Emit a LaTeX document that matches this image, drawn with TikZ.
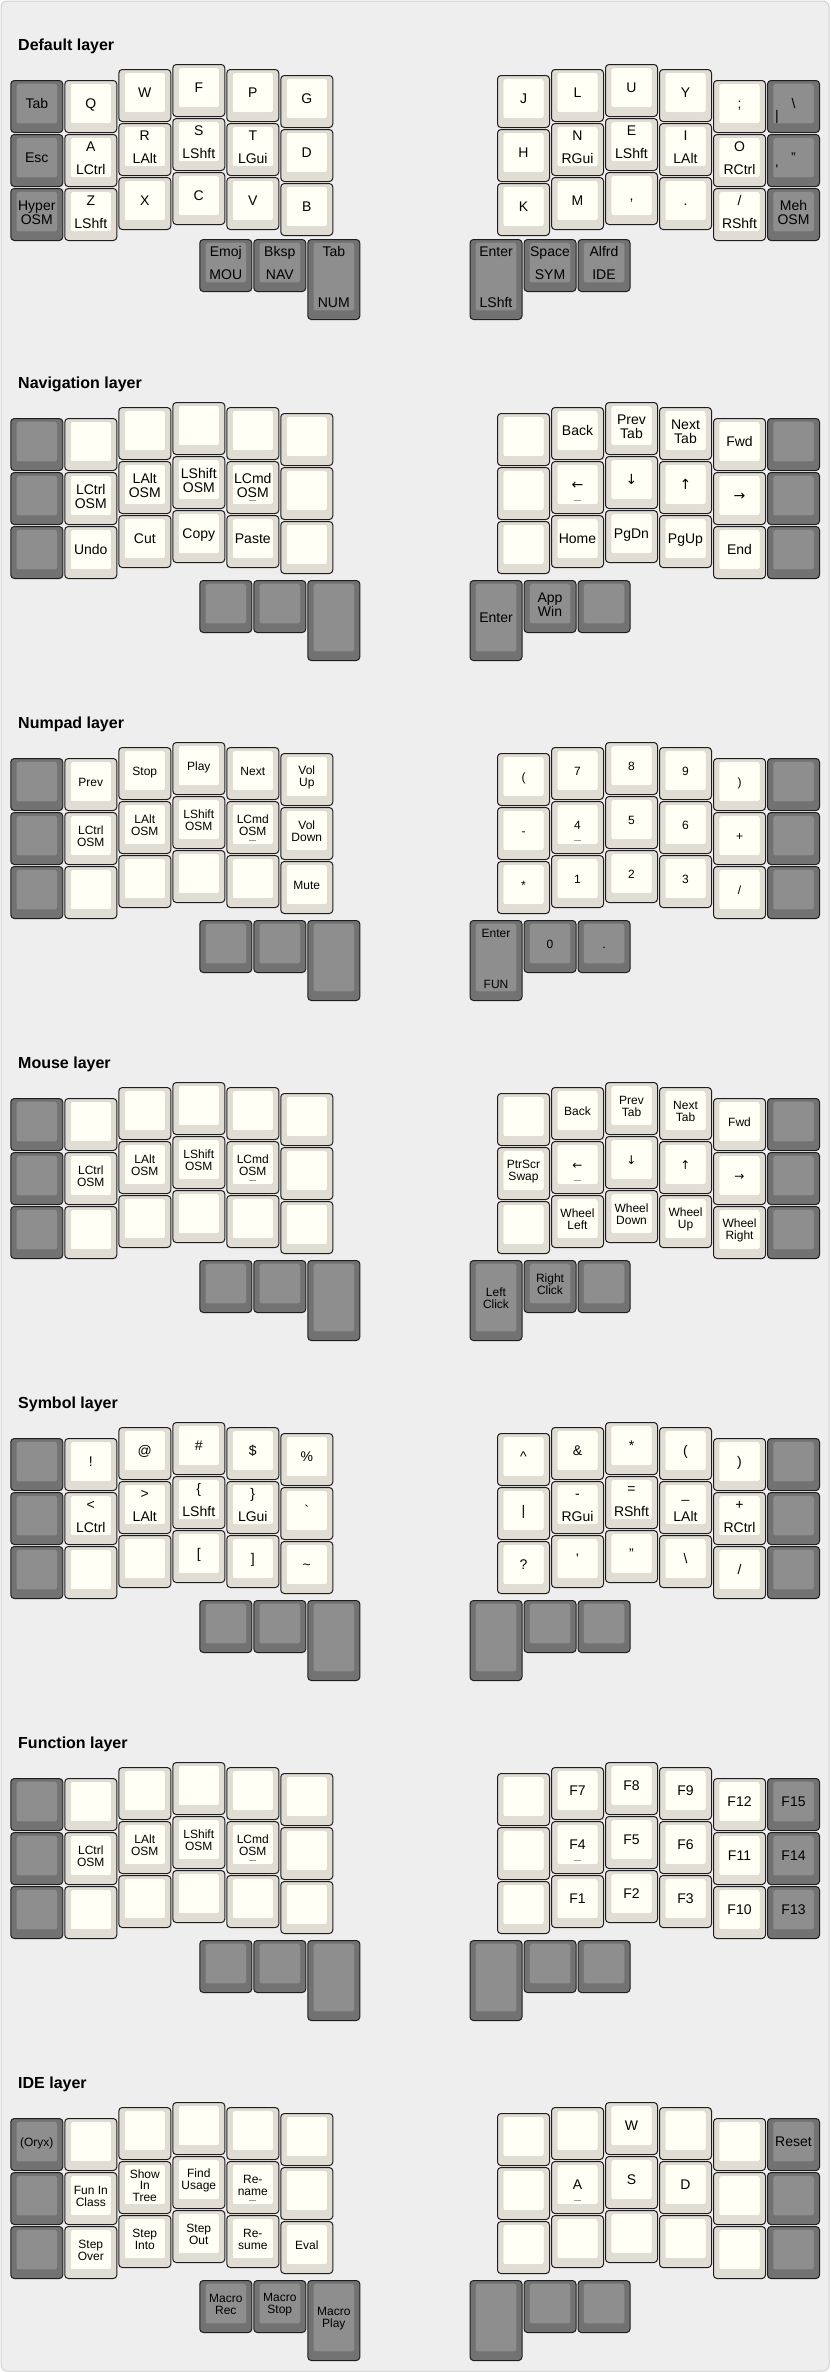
\documentclass[tikz,border=0pt]{standalone}
\usepackage{fontspec}
\setmainfont{Liberation Sans}
\newfontfamily\arrowfont{DejaVu Sans}

\definecolor{panelbg}{HTML}{EEEEEE}
\definecolor{panelline}{HTML}{D2D2D2}
\definecolor{keyline}{HTML}{1E1E1E}
\definecolor{alphaedge}{HTML}{E2DDD4}
\definecolor{alphatop}{HTML}{FFFFF5}
\definecolor{modedge}{HTML}{727272}
\definecolor{modtop}{HTML}{8E8E8E}

% top face of a keycap
\newcommand{\capface}[1]{\filldraw[fill=#1, draw=#1!84!black, line width=0.5pt, rounded corners=2.5pt]
  ([xshift=5.5pt,yshift=-3.2pt]path picture bounding box.north west) rectangle
  ([xshift=-5.5pt,yshift=8.8pt]path picture bounding box.south east);}

% one split keyboard: prefix, top of middle column, thumb drop
\newcommand{\keyboard}[3]{%
  \foreach \kr in {0,1,2}
    \node[modkey] (#1-l\kr0) at (36.8,{#2+16+54*\kr+26.5}) {};
  \foreach \kc/\dy in {1/16,2/5,3/0,4/5,5/11}
    \foreach \kr in {0,1,2}
      \node[alphakey] (#1-l\kr\kc) at ({36.8+54*\kc},{#2+\dy+54*\kr+26.5}) {};
  \foreach \kc/\dy in {0/11,1/5,2/0,3/5,4/16}
    \foreach \kr in {0,1,2}
      \node[alphakey] (#1-r\kr\kc) at ({523.5+54*\kc},{#2+\dy+54*\kr+26.5}) {};
  \foreach \kr in {0,1,2}
    \node[modkey] (#1-r\kr5) at (793.5,{#2+16+54*\kr+26.5}) {};
  \node[modkey] (#1-lt0) at (225.8,{#2+#3+26.5}) {};
  \node[modkey] (#1-lt1) at (279.8,{#2+#3+26.5}) {};
  \node[modkey, tall] (#1-lt2) at (333.8,{#2+#3+40.5}) {};
  \node[modkey, tall] (#1-rt0) at (496,{#2+#3+40.5}) {};
  \node[modkey] (#1-rt1) at (550,{#2+#3+26.5}) {};
  \node[modkey] (#1-rt2) at (604,{#2+#3+26.5}) {};
}

% legends
\newcommand{\kt}[3][]{\node[one,#1] (#2-t) at ([yshift=2pt]#2.center) {#3};}
\newcommand{\km}[3][]{\node[lgd,#1] (#2-t) at ([yshift=2pt]#2.center) {#3};}
\newcommand{\kh}[3]{\node[one] (#1-t) at ([yshift=-13.5pt]#1.north) {#2};
  \node[one] (#1-h) at ([yshift=17pt]#1.south) {#3};}
\newcommand{\ks}[3]{\node[one] (#1-t) at ([yshift=2pt]#1.center) {#2};
  \node[one] (#1-s) at ([xshift=-16.5pt,yshift=17pt]#1.south) {#3};}
\newcommand{\home}[1]{\draw[homebar] ([xshift=-3.5pt,yshift=-39.5pt]#1.north) -- ([xshift=3.5pt,yshift=-39.5pt]#1.north);}

\begin{document}
\begin{tikzpicture}[x=1pt, y=-1pt,
  capkey/.style={draw=keyline, line width=1pt, rounded corners=3.5pt, minimum width=52pt, minimum height=52pt, inner sep=0pt},
  alphakey/.style={capkey, fill=alphaedge, path picture={\capface{alphatop}}},
  modkey/.style={capkey, fill=modedge, path picture={\capface{modtop}}},
  tall/.style={minimum height=80pt},
  lgd/.style={font=\fontsize{12}{11.7}\selectfont, align=center, inner sep=0pt},
  one/.style={lgd, text height=8.9pt, text depth=0pt},
  big/.style={font=\fontsize{14}{13.5}\selectfont},
  layertitle/.style={anchor=base west, inner sep=0pt, font=\bfseries\fontsize{16}{19}\selectfont},
  homebar/.style={draw=black!40, line width=0.8pt},
  panel/.style={fill=panelbg, draw=panelline, line width=1pt, rounded corners=6pt}
]
\useasboundingbox (0,0) rectangle (830,2372);
\draw[panel] (1,1) rectangle (829,2371);

% default layer
\begin{scope}[lgd/.append style={big}]
\node[layertitle] (d-title) at (18,50) {Default layer};
\keyboard{d}{64}{175}
\kt{d-l00}{Tab} \kt{d-l01}{Q} \kt{d-l02}{W} \kt{d-l03}{F} \kt{d-l04}{P} \kt{d-l05}{G}
\kt{d-l10}{Esc} \kh{d-l11}{A}{LCtrl} \kh{d-l12}{R}{LAlt} \kh{d-l13}{S}{LShft} \kh{d-l14}{T}{LGui} \kt{d-l15}{D}
\km{d-l20}{Hyper\\OSM} \kh{d-l21}{Z}{LShft} \kt{d-l22}{X} \kt{d-l23}{C} \kt{d-l24}{V} \kt{d-l25}{B}
\kh{d-lt0}{Emoj}{MOU} \kh{d-lt1}{Bksp}{NAV} \kh{d-lt2}{Tab}{NUM}
\kt{d-r00}{J} \kt{d-r01}{L} \kt{d-r02}{U} \kt{d-r03}{Y} \kt{d-r04}{;} \ks{d-r05}{\textbackslash}{|}
\kt{d-r10}{H} \kh{d-r11}{N}{RGui} \kh{d-r12}{E}{LShft} \kh{d-r13}{I}{LAlt} \kh{d-r14}{O}{RCtrl} \ks{d-r15}{"}{\textquotesingle}
\kt{d-r20}{K} \kt{d-r21}{M} \kt{d-r22}{,} \kt{d-r23}{.} \kh{d-r24}{/}{RShft} \km{d-r25}{Meh\\OSM}
\kh{d-rt0}{Enter}{LShft} \kh{d-rt1}{Space}{SYM} \kh{d-rt2}{Alfrd}{IDE}
\end{scope}

% navigation layer
\begin{scope}[lgd/.append style={big}]
\node[layertitle] (n-title) at (18,388) {Navigation layer};
\keyboard{n}{402}{178}
\km{n-l11}{LCtrl\\OSM} \km{n-l12}{LAlt\\OSM} \km{n-l13}{LShift\\OSM} \km{n-l14}{LCmd\\OSM} \home{n-l14}
\kt{n-l21}{Undo} \kt{n-l22}{Cut} \kt{n-l23}{Copy} \kt{n-l24}{Paste}
\kt{n-r01}{Back} \km{n-r02}{Prev\\Tab} \km{n-r03}{Next\\Tab} \kt{n-r04}{Fwd}
\kt{n-r11}{\arrowfont ←} \home{n-r11} \kt{n-r12}{\arrowfont ↓} \kt{n-r13}{\arrowfont ↑} \kt{n-r14}{\arrowfont →}
\kt{n-r21}{Home} \kt{n-r22}{PgDn} \kt{n-r23}{PgUp} \kt{n-r24}{End}
\kt{n-rt0}{Enter} \km{n-rt1}{App\\Win}
\end{scope}

% numpad layer
\node[layertitle] (u-title) at (18,728) {Numpad layer};
\keyboard{u}{742}{178}
\kt{u-l01}{Prev} \kt{u-l02}{Stop} \kt{u-l03}{Play} \kt{u-l04}{Next} \km{u-l05}{Vol\\Up}
\km{u-l11}{LCtrl\\OSM} \km{u-l12}{LAlt\\OSM} \km{u-l13}{LShift\\OSM} \km{u-l14}{LCmd\\OSM} \home{u-l14} \km{u-l15}{Vol\\Down}
\kt{u-l25}{Mute}
\kt{u-r00}{(} \kt{u-r01}{7} \kt{u-r02}{8} \kt{u-r03}{9} \kt{u-r04}{)}
\kt{u-r10}{-} \kt{u-r11}{4} \home{u-r11} \kt{u-r12}{5} \kt{u-r13}{6} \kt{u-r14}{+}
\kt{u-r20}{*} \kt{u-r21}{1} \kt{u-r22}{2} \kt{u-r23}{3} \kt{u-r24}{/}
\kh{u-rt0}{Enter}{FUN} \kt{u-rt1}{0} \kt{u-rt2}{.}

% mouse layer
\node[layertitle] (m-title) at (18,1068) {Mouse layer};
\keyboard{m}{1082}{178}
\km{m-l11}{LCtrl\\OSM} \km{m-l12}{LAlt\\OSM} \km{m-l13}{LShift\\OSM} \km{m-l14}{LCmd\\OSM} \home{m-l14}
\kt{m-r01}{Back} \km{m-r02}{Prev\\Tab} \km{m-r03}{Next\\Tab} \kt{m-r04}{Fwd}
\km{m-r10}{PtrScr\\Swap} \kt{m-r11}{\arrowfont ←} \home{m-r11} \kt{m-r12}{\arrowfont ↓} \kt{m-r13}{\arrowfont ↑} \kt{m-r14}{\arrowfont →}
\km{m-r21}{Wheel\\Left} \km{m-r22}{Wheel\\Down} \km{m-r23}{Wheel\\Up} \km{m-r24}{Wheel\\Right}
\km{m-rt0}{Left\\Click} \km{m-rt1}{Right\\Click}

% symbol layer
\begin{scope}[lgd/.append style={big}]
\node[layertitle] (s-title) at (18,1408) {Symbol layer};
\keyboard{s}{1422}{178}
\kt{s-l01}{!} \kt{s-l02}{@} \kt{s-l03}{\#} \kt{s-l04}{\$} \kt{s-l05}{\%}
\kh{s-l11}{<}{LCtrl} \kh{s-l12}{>}{LAlt} \kh{s-l13}{\{}{LShft} \kh{s-l14}{\}}{LGui} \kt{s-l15}{\textasciigrave}
\kt{s-l23}{[} \kt{s-l24}{]} \kt{s-l25}{\textasciitilde}
\kt{s-r00}{\textasciicircum} \kt{s-r01}{\&} \kt{s-r02}{*} \kt{s-r03}{(} \kt{s-r04}{)}
\kt{s-r10}{|} \kh{s-r11}{-}{RGui} \kh{s-r12}{=}{RShft} \kh{s-r13}{\_}{LAlt} \kh{s-r14}{+}{RCtrl}
\kt{s-r20}{?} \kt{s-r21}{\textquotesingle} \kt{s-r22}{"} \kt{s-r23}{\textbackslash} \kt{s-r24}{/}
\end{scope}

% function layer
\node[layertitle] (f-title) at (18,1748) {Function layer};
\keyboard{f}{1762}{178}
\km{f-l11}{LCtrl\\OSM} \km{f-l12}{LAlt\\OSM} \km{f-l13}{LShift\\OSM} \km{f-l14}{LCmd\\OSM} \home{f-l14}
\kt[big]{f-r01}{F7} \kt[big]{f-r02}{F8} \kt[big]{f-r03}{F9} \kt[big]{f-r04}{F12} \kt[big]{f-r05}{F15}
\kt[big]{f-r11}{F4} \home{f-r11} \kt[big]{f-r12}{F5} \kt[big]{f-r13}{F6} \kt[big]{f-r14}{F11} \kt[big]{f-r15}{F14}
\kt[big]{f-r21}{F1} \kt[big]{f-r22}{F2} \kt[big]{f-r23}{F3} \kt[big]{f-r24}{F10} \kt[big]{f-r25}{F13}

% IDE layer
\node[layertitle] (i-title) at (18,2088) {IDE layer};
\keyboard{i}{2102}{178}
\kt{i-l00}{(Oryx)}
\km{i-l11}{Fun In\\Class} \km{i-l12}{Show\\In\\Tree} \km{i-l13}{Find\\Usage} \km{i-l14}{Re-\\name} \home{i-l14}
\km{i-l21}{Step\\Over} \km{i-l22}{Step\\Into} \km{i-l23}{Step\\Out} \km{i-l24}{Re-\\sume} \kt{i-l25}{Eval}
\km{i-lt0}{Macro\\Rec} \km{i-lt1}{Macro\\Stop} \km{i-lt2}{Macro\\Play}
\kt[big]{i-r02}{W} \kt[big]{i-r05}{Reset}
\kt[big]{i-r11}{A} \home{i-r11} \kt[big]{i-r12}{S} \kt[big]{i-r13}{D}
\end{tikzpicture}
\end{document}
